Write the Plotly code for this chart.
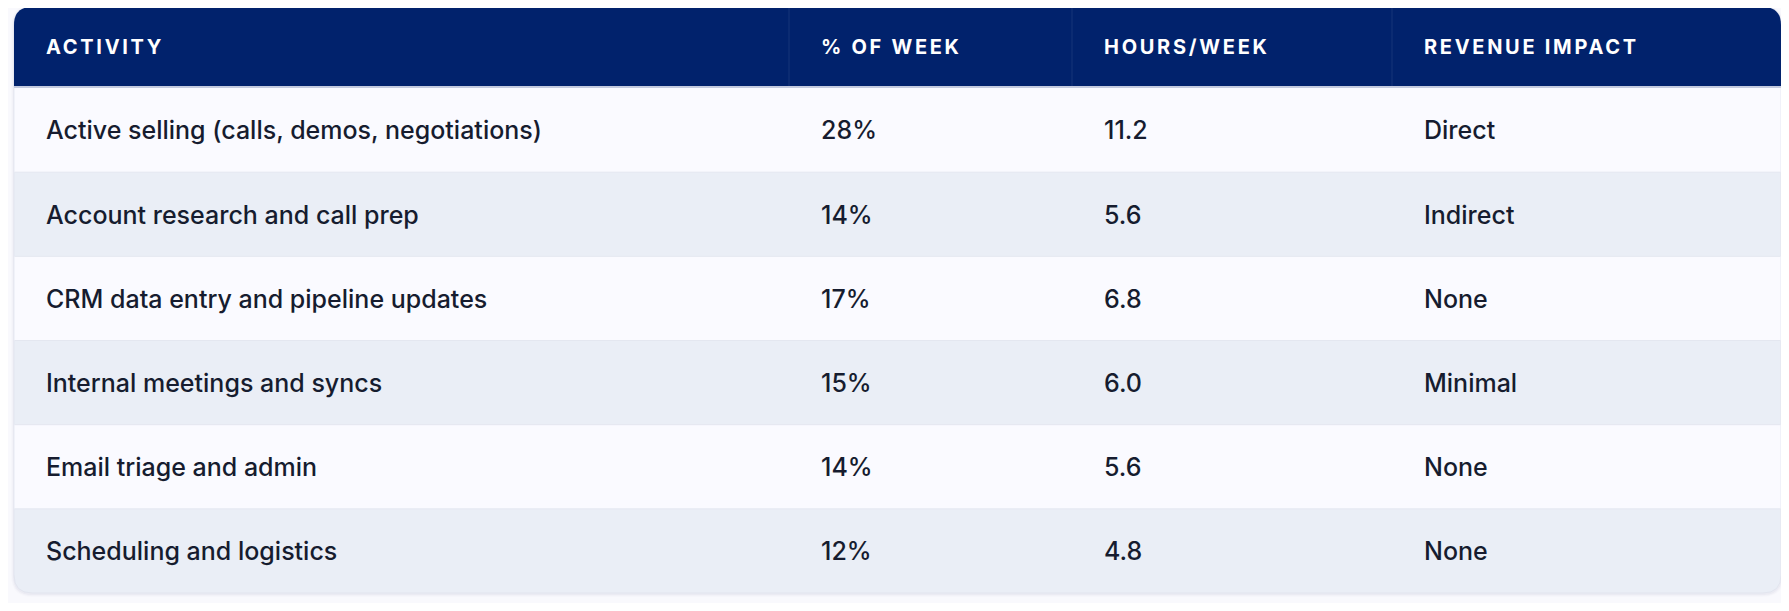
import plotly.graph_objects as go

# table content
headers = ["ACTIVITY", "% OF WEEK", "HOURS/WEEK", "REVENUE IMPACT"]
activities = [
    "Active selling (calls, demos, negotiations)",
    "Account research and call prep",
    "CRM data entry and pipeline updates",
    "Internal meetings and syncs",
    "Email triage and admin",
    "Scheduling and logistics",
]
pct_of_week = [28, 14, 17, 15, 14, 12]
hours_per_week = [11.2, 5.6, 6.8, 6.0, 5.6, 4.8]
revenue_impact = ["Direct", "Indirect", "None", "Minimal", "None", "None"]

# layout (page pixels); the browser body has an 8px margin so the
# figure is made 16px smaller and the axes are shifted to page coordinates
W, H = 1789, 611
BODY_MARGIN = 8
LEFT, RIGHT, TOP, BOTTOM = 14, 1781, 7, 593
HEADER_H = 79
COL_W = [775, 283, 320, 389]
PAD = 32
RADIUS = 18
TEXT_DY = 3  # plotly centres text a little high

NAVY = "#01226c"
ROW_LIGHT = "#fafaff"
ROW_DARK = "#eaeef6"
TEXT = "#161c2f"


def rounded_path(x0, y0, x1, y1, r, top=True, bottom=True):
    # y grows downwards (axis is reversed)
    p = ""
    if top:
        p += f"M {x0},{y0 + r} Q {x0},{y0} {x0 + r},{y0} L {x1 - r},{y0} Q {x1},{y0} {x1},{y0 + r} "
    else:
        p += f"M {x0},{y0} L {x1},{y0} "
    if bottom:
        p += f"L {x1},{y1 - r} Q {x1},{y1} {x1 - r},{y1} L {x0 + r},{y1} Q {x0},{y1} {x0},{y1 - r} Z"
    else:
        p += f"L {x1},{y1} L {x0},{y1} Z"
    return p


col_left = [LEFT]
for w in COL_W[:-1]:
    col_left.append(col_left[-1] + w)

body_top = TOP + HEADER_H + 2
row_h = (BOTTOM - body_top) / len(activities)

shapes = []
# soft shadow
for i, a in enumerate([0.03, 0.02, 0.012]):
    g = i + 1
    shapes.append(dict(type="path", path=rounded_path(LEFT - g, TOP - g + 1, RIGHT + g, BOTTOM + g + 1, RADIUS + g),
                       fillcolor=f"rgba(30,40,90,{a})", line=dict(width=0), layer="below"))
# table body
shapes.append(dict(type="path", path=rounded_path(LEFT, TOP, RIGHT, BOTTOM, RADIUS),
                   fillcolor=ROW_DARK, line=dict(color="#e2e5ef", width=1), layer="below"))
for i in range(len(activities)):
    y0 = body_top + i * row_h
    if i % 2 == 0:
        shapes.append(dict(type="rect", x0=LEFT + 0.5, x1=RIGHT - 0.5, y0=y0, y1=y0 + row_h,
                           fillcolor=ROW_LIGHT, line=dict(width=0), layer="below"))
    if i > 0:
        shapes.append(dict(type="line", x0=LEFT + 0.5, x1=RIGHT - 0.5, y0=y0, y1=y0,
                           line=dict(color="#e4e7f0", width=1), layer="below"))
# header
shapes.append(dict(type="path", path=rounded_path(LEFT, TOP, RIGHT, TOP + HEADER_H, RADIUS, bottom=False),
                   fillcolor=NAVY, line=dict(width=0), layer="below"))
shapes.append(dict(type="line", x0=LEFT, x1=RIGHT, y0=TOP + HEADER_H + 1, y1=TOP + HEADER_H + 1,
                   line=dict(color="#c3cadf", width=2), layer="below"))
for x in col_left[1:]:
    shapes.append(dict(type="line", x0=x, x1=x, y0=TOP, y1=TOP + HEADER_H,
                       line=dict(color="rgba(255,255,255,0.09)", width=1), layer="below"))

fig = go.Figure()

# header labels
fig.add_trace(go.Scatter(
    x=[c + PAD for c in col_left],
    y=[TOP + HEADER_H / 2 + 2] * len(headers),
    text=[f'<span style="letter-spacing:2.7px">{h}</span>' for h in headers],
    mode="text", textposition="middle right",
    textfont=dict(family="Inter", size=20, color="#ffffff", weight=700),
    hoverinfo="skip", showlegend=False,
))

# body cells
columns = [
    activities,
    [f"{p}%" for p in pct_of_week],
    [f"{h:.1f}" for h in hours_per_week],
    revenue_impact,
]
row_y = [body_top + (i + 0.5) * row_h + TEXT_DY for i in range(len(activities))]
for c, values in enumerate(columns):
    fig.add_trace(go.Scatter(
        x=[col_left[c] + PAD] * len(values),
        y=row_y,
        text=values,
        mode="text", textposition="middle right",
        textfont=dict(family="Inter", size=25, color=TEXT, weight=500),
        hoverinfo="skip", showlegend=False,
    ))

fig.update_layout(
    width=W - 2 * BODY_MARGIN, height=H - 2 * BODY_MARGIN,
    margin=dict(l=0, r=0, t=0, b=0),
    paper_bgcolor="#f9f9fd", plot_bgcolor="#f9f9fd",
    shapes=shapes,
    xaxis=dict(range=[BODY_MARGIN, W - BODY_MARGIN], visible=False, fixedrange=True),
    yaxis=dict(range=[H - BODY_MARGIN, BODY_MARGIN], visible=False, fixedrange=True),
)

fig.write_html("out.html")
